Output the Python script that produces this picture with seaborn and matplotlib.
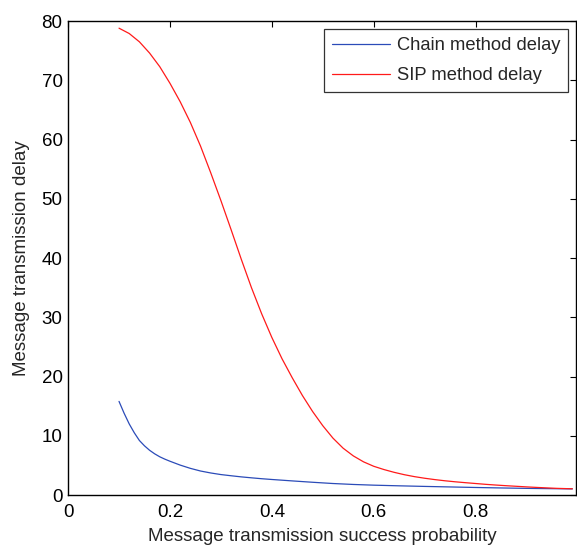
import seaborn as sns
import matplotlib
matplotlib.use('Agg')
import matplotlib.pyplot as plt
import pandas as pd

# values
chain_p = [0.10, 0.11, 0.12, 0.13, 0.14, 0.15, 0.16, 0.17, 0.18, 0.19, 0.20,
           0.22, 0.24, 0.26, 0.28, 0.30, 0.32, 0.34, 0.36, 0.38, 0.40, 0.44,
           0.48, 0.52, 0.56, 0.60, 0.65, 0.70, 0.75, 0.80, 0.85, 0.90, 0.95,
           0.99]
chain_delay = [15.8, 13.8, 12.0, 10.5, 9.2, 8.3, 7.55, 6.95, 6.45, 6.05, 5.7,
               5.05, 4.5, 4.05, 3.72, 3.45, 3.25, 3.06, 2.9, 2.75, 2.62, 2.38,
               2.15, 1.94, 1.78, 1.66, 1.55, 1.45, 1.36, 1.27, 1.19, 1.12, 1.07,
               1.03]

sip_p = [0.10, 0.12, 0.14, 0.16, 0.18, 0.20, 0.22, 0.24, 0.26, 0.28, 0.30,
         0.32, 0.34, 0.36, 0.38, 0.40, 0.42, 0.44, 0.46, 0.48, 0.50, 0.52,
         0.54, 0.56, 0.58, 0.60, 0.62, 0.64, 0.66, 0.68, 0.70, 0.72, 0.74,
         0.76, 0.78, 0.80, 0.82, 0.84, 0.86, 0.88, 0.90, 0.92, 0.94, 0.96,
         0.99]
sip_delay = [78.8, 77.9, 76.5, 74.6, 72.3, 69.5, 66.4, 62.9, 58.9, 54.4, 49.7,
             44.8, 39.8, 35.0, 30.6, 26.6, 23.0, 19.8, 16.8, 14.1, 11.7, 9.6,
             7.9, 6.6, 5.6, 4.85, 4.3, 3.83, 3.43, 3.1, 2.83, 2.6, 2.4,
             2.23, 2.08, 1.94, 1.8, 1.68, 1.57, 1.47, 1.37, 1.28, 1.2, 1.12,
             1.05]

df = pd.concat([
    pd.DataFrame({'p': chain_p, 'delay': chain_delay, 'method': 'Chain method delay'}),
    pd.DataFrame({'p': sip_p, 'delay': sip_delay, 'method': 'SIP method delay'}),
])

sns.set_style('white')
plt.rcParams['font.family'] = ['Liberation Sans', 'DejaVu Sans']
fs = 13.5

fig = plt.figure(figsize=(5.77, 5.46), dpi=100)
ax = fig.add_axes([0.118, 0.0934, 0.881, 0.868])

sns.lineplot(data=df, x='p', y='delay', hue='method',
             palette={'Chain method delay': '#2b4bb8', 'SIP method delay': '#ff1a1a'},
             linewidth=0.9, ax=ax)

ax.set_xlim(0, 0.998)
ax.set_ylim(0, 80)
ax.set_xticks([0, 0.2, 0.4, 0.6, 0.8])
ax.set_xticklabels(['0', '0.2', '0.4', '0.6', '0.8'])
ax.set_yticks(range(0, 81, 10))
ax.tick_params(direction='in', length=4, width=0.8, top=True, right=True,
               labelsize=fs, colors='black')
ax.tick_params(axis='x', pad=6.5)
ax.tick_params(axis='y', pad=4)
for s in ax.spines.values():
    s.set_color('black')
    s.set_linewidth(1.0)

ax.set_xlabel('Message transmission success probability', fontsize=fs, labelpad=5)
ax.set_ylabel('Message transmission delay', fontsize=fs, labelpad=8)

leg = ax.legend(loc='upper right', fontsize=13.2, frameon=True, fancybox=False,
                borderaxespad=0.45, handlelength=3.2, handletextpad=0.35,
                borderpad=0.43, labelspacing=0.7)
leg.get_frame().set_edgecolor('black')
leg.get_frame().set_linewidth(0.9)

fig.savefig('out.png', dpi=100)
